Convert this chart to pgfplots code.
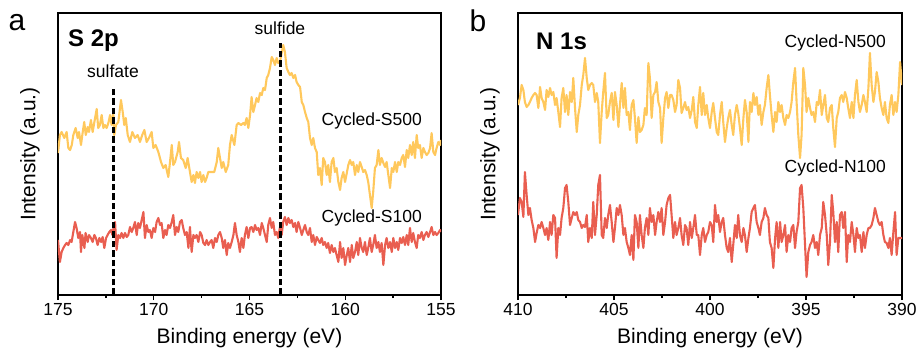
\documentclass[border=0pt]{standalone}
\usepackage{fontspec}
\setmainfont{Liberation Sans}
\usepackage{pgfplots}
\usepackage{pgfplotstable}
\pgfplotsset{compat=1.18}
\definecolor{ylw}{RGB}{255,200,92}
\definecolor{rd}{RGB}{233,94,80}

\pgfplotstableread{
x y
175.0 142
174.9 160
174.81 163
174.67 157
174.55 163
174.46 147
174.37 145
174.28 150
174.2 160
174.08 167
173.97 157
173.9 163
173.8 150
173.73 160
173.63 173
173.55 160
173.45 168
173.38 163
173.28 175
173.19 163
173.1 173
172.98 186
172.9 167
172.81 170
172.72 180
172.63 167
172.55 170
172.46 167
172.37 172
172.28 180
172.2 170
172.11 182
172.06 160
171.97 170
171.85 173
171.71 195
171.62 183
171.54 170
171.46 177
171.36 160
171.24 153
171.12 163
170.98 157
170.84 160
170.72 153
170.6 160
170.49 165
170.37 153
170.25 157
170.11 163
170.02 147
169.9 150
169.76 143
169.62 133
169.5 127
169.38 130
169.24 118
169.15 133
169.06 150
168.98 130
168.89 133
168.75 143
168.68 153
168.58 137
168.46 135
168.33 127
168.23 137
168.11 123
168.02 113
167.93 120
167.85 112
167.76 123
167.67 117
167.58 123
167.5 113
167.41 120
167.32 113
167.24 117
167.15 123
166.97 123
166.84 123
166.71 133
166.63 147
166.54 137
166.45 127
166.37 133
166.24 123
166.11 130
166.02 150
165.93 160
165.79 150
165.67 170
165.58 172
165.44 170
165.32 172
165.24 170
165.15 177
165.06 167
164.97 180
164.89 198
164.8 183
164.71 190
164.63 197
164.54 193
164.45 202
164.36 200
164.28 207
164.19 205
164.1 217
164.02 220
163.93 227
163.84 238
163.76 235
163.67 230
163.58 237
163.5 232
163.41 233
163.32 242
163.24 250
163.15 243
163.06 227
162.97 223
162.89 220
162.8 222
162.71 217
162.62 220
162.54 213
162.45 210
162.36 208
162.27 193
162.19 190
162.1 183
162.01 177
161.93 173
161.84 157
161.75 150
161.67 157
161.58 147
161.49 143
161.41 120
161.32 127
161.23 110
161.15 137
161.06 133
160.97 120
160.89 130
160.8 113
160.71 133
160.62 137
160.54 123
160.45 127
160.36 113
160.27 105
160.19 117
160.1 123
160.01 113
159.92 122
159.84 130
159.75 135
159.66 130
159.58 133
159.49 120
159.4 130
159.32 123
159.23 133
159.14 128
159.06 123
158.97 125
158.88 120
158.8 113
158.71 100
158.62 87
158.54 103
158.45 127
158.36 130
158.27 145
158.19 130
158.1 137
158.01 132
157.92 128
157.84 133
157.75 120
157.66 107
157.57 127
157.49 123
157.4 133
157.31 123
157.23 133
157.14 130
157.05 137
156.97 140
156.88 128
156.79 145
156.71 137
156.62 150
156.53 140
156.45 153
156.36 137
156.27 160
156.19 147
156.1 150
156.01 137
155.92 147
155.84 143
155.75 140
155.66 142
155.57 147
155.49 162
155.4 143
155.31 140
155.23 147
155.14 153
155.05 150
155.0 155
}\tSfive

\pgfplotstableread{
x y
175.0 55
174.9 33
174.81 43
174.72 47
174.63 50
174.55 52
174.46 50
174.37 55
174.29 53
174.2 63
174.11 73
174.03 67
173.94 57
173.85 63
173.8 43
173.73 60
173.62 47
173.56 62
173.45 53
173.38 60
173.28 57
173.19 53
173.1 60
173.02 57
172.93 50
172.84 57
172.75 53
172.67 58
172.58 47
172.49 57
172.41 60
172.32 63
172.23 65
172.16 60
172.09 68
172.02 73
171.94 45
171.85 60
171.76 57
171.68 62
171.59 57
171.5 62
171.41 58
171.33 60
171.24 68
171.15 63
171.07 67
170.98 73
170.89 60
170.81 72
170.72 67
170.63 75
170.54 83
170.46 57
170.37 70
170.28 63
170.2 65
170.11 57
170.02 67
169.93 63
169.85 73
169.76 77
169.67 70
169.59 72
169.5 57
169.41 65
169.33 60
169.24 70
169.15 67
169.06 73
168.98 80
168.89 60
168.8 68
168.72 63
168.63 73
168.54 75
168.46 67
168.37 60
168.28 63
168.19 47
168.11 68
168.02 43
167.93 60
167.85 57
167.76 60
167.67 53
167.58 63
167.5 60
167.41 52
167.32 50
167.24 55
167.15 50
167.06 53
166.98 55
166.89 47
166.8 57
166.71 53
166.63 60
166.54 63
166.45 57
166.37 47
166.28 55
166.19 40
166.11 52
166.02 47
165.93 53
165.84 60
165.76 72
165.67 60
165.58 53
165.5 43
165.41 57
165.32 47
165.24 60
165.15 68
165.06 57
164.97 67
164.89 68
164.8 63
164.71 70
164.63 65
164.54 67
164.45 60
164.36 72
164.28 67
164.19 60
164.1 53
164.02 70
163.93 77
163.84 67
163.76 73
163.67 60
163.58 63
163.5 57
163.41 68
163.32 60
163.24 73
163.15 78
163.06 70
162.97 77
162.89 72
162.8 75
162.71 68
162.62 72
162.54 63
162.45 73
162.36 67
162.27 60
162.19 65
162.1 70
162.01 63
161.93 60
161.84 67
161.75 53
161.67 60
161.58 50
161.49 58
161.41 55
161.32 52
161.23 57
161.15 50
161.06 53
160.97 47
160.89 52
160.8 42
160.71 50
160.62 43
160.54 47
160.45 40
160.36 33
160.27 53
160.19 37
160.1 47
160.01 30
159.92 40
159.84 47
159.75 33
159.66 50
159.58 37
159.49 43
159.4 53
159.32 40
159.23 57
159.14 47
159.06 43
158.97 53
158.88 40
158.8 47
158.71 57
158.62 43
158.54 50
158.45 60
158.36 47
158.27 53
158.19 43
158.1 52
158.01 30
157.92 50
157.84 57
157.75 47
157.66 53
157.57 43
157.49 57
157.4 47
157.31 53
157.23 45
157.14 57
157.05 52
156.97 58
156.88 50
156.79 60
156.71 50
156.62 67
156.53 53
156.45 62
156.36 53
156.27 47
156.19 60
156.1 57
156.01 63
155.92 55
155.84 60
155.75 63
155.66 58
155.57 63
155.49 68
155.4 60
155.31 63
155.23 60
155.14 62
155.05 65
155.0 63
}\tSone

\pgfplotstableread{
x y
410.0 190
409.9 197
409.81 210
409.72 205
409.64 193
409.55 188
409.46 190
409.38 193
409.29 197
409.2 200
409.11 202
409.03 200
408.94 187
408.85 208
408.77 197
408.68 193
408.59 185
408.51 205
408.42 198
408.33 207
408.25 200
408.16 203
408.07 190
407.99 197
407.9 183
407.81 168
407.73 197
407.64 207
407.55 183
407.47 200
407.38 180
407.29 203
407.2 193
407.12 217
407.03 187
406.94 163
406.86 180
406.77 190
406.68 210
406.6 220
406.51 237
406.42 217
406.34 205
406.25 210
406.16 212
406.08 210
405.99 193
405.9 202
405.82 193
405.73 152
405.64 183
405.56 203
405.47 222
405.38 177
405.3 180
405.21 193
405.12 202
405.03 175
404.95 203
404.86 190
404.77 168
404.69 190
404.6 212
404.51 187
404.43 207
404.34 180
404.25 183
404.17 165
404.08 190
403.99 195
403.91 177
403.82 152
403.73 178
403.65 163
403.56 165
403.47 170
403.39 187
403.3 180
403.21 232
403.13 217
403.04 177
402.95 200
402.86 203
402.78 213
402.69 193
402.6 187
402.52 152
402.43 177
402.34 197
402.26 203
402.17 187
402.08 200
402.0 200
401.91 195
401.82 183
401.74 190
401.65 215
401.56 207
401.48 182
401.39 187
401.3 193
401.22 185
401.13 188
401.04 177
400.95 185
400.87 198
400.78 173
400.69 167
400.61 190
400.52 208
400.43 180
400.35 202
400.26 180
400.17 190
400.09 177
400.0 167
399.91 183
399.83 192
399.74 177
399.65 163
399.57 160
399.48 180
399.39 193
399.31 173
399.22 153
399.13 167
399.05 177
398.96 185
398.87 170
398.79 160
398.7 180
398.61 190
398.53 182
398.44 167
398.35 150
398.26 177
398.18 195
398.09 183
398.0 153
397.92 193
397.83 183
397.74 202
397.66 190
397.57 198
397.48 180
397.4 190
397.31 170
397.22 183
397.14 190
397.05 207
396.96 220
396.88 200
396.79 180
396.7 163
396.61 183
396.53 173
396.44 193
396.35 183
396.27 190
396.18 177
396.09 170
396.01 180
395.92 177
395.83 183
395.75 193
395.66 213
395.57 227
395.49 193
395.4 160
395.31 137
395.23 160
395.14 227
395.05 210
394.97 183
394.88 197
394.79 187
394.71 180
394.62 183
394.53 173
394.44 193
394.36 190
394.27 205
394.18 180
394.1 190
394.01 200
393.92 177
393.84 173
393.75 187
393.66 190
393.58 167
393.49 148
393.4 177
393.32 183
393.23 197
393.14 200
393.06 193
392.97 203
392.88 197
392.8 187
392.71 177
392.62 193
392.53 177
392.45 200
392.36 215
392.27 193
392.19 183
392.1 190
392.01 200
391.93 193
391.84 183
391.75 207
391.67 242
391.58 210
391.49 193
391.41 203
391.32 223
391.23 213
391.15 197
391.06 187
390.97 180
390.89 193
390.8 177
390.71 172
390.63 190
390.54 200
390.45 180
390.36 193
390.28 183
390.19 200
390.1 233
390.0 210
}\tNfive

\pgfplotstableread{
x y
410.0 80
409.9 97
409.81 93
409.72 78
409.64 123
409.55 100
409.46 80
409.38 87
409.29 75
409.2 67
409.11 53
409.03 62
408.94 70
408.85 67
408.77 73
408.68 67
408.59 60
408.51 67
408.42 55
408.33 73
408.25 60
408.16 80
408.07 77
407.99 37
407.9 67
407.81 60
407.73 77
407.64 87
407.55 107
407.47 110
407.38 93
407.29 70
407.2 77
407.12 83
407.03 80
406.94 83
406.86 75
406.77 73
406.68 67
406.6 70
406.51 68
406.42 80
406.34 53
406.25 67
406.16 57
406.08 93
405.99 60
405.9 80
405.82 110
405.73 120
405.64 60
405.56 57
405.47 77
405.38 67
405.3 80
405.21 90
405.12 73
405.03 53
404.95 67
404.86 87
404.77 80
404.69 90
404.6 80
404.51 60
404.43 67
404.34 53
404.25 47
404.17 40
404.08 60
403.99 35
403.91 80
403.82 73
403.73 47
403.65 80
403.56 60
403.47 47
403.39 67
403.3 77
403.21 60
403.13 87
403.04 73
402.95 80
402.86 60
402.78 73
402.69 83
402.6 73
402.52 87
402.43 60
402.34 73
402.26 90
402.17 97
402.08 100
402.0 80
401.91 57
401.82 73
401.74 60
401.65 67
401.56 77
401.48 60
401.39 50
401.3 70
401.22 67
401.13 50
401.04 73
400.95 57
400.87 67
400.78 80
400.69 60
400.61 60
400.52 40
400.43 60
400.35 67
400.26 53
400.17 60
400.09 63
400.0 73
399.91 70
399.83 53
399.74 90
399.65 73
399.57 80
399.48 63
399.39 73
399.31 77
399.22 60
399.13 47
399.05 43
398.96 57
398.87 33
398.79 50
398.7 70
398.61 57
398.53 80
398.44 60
398.35 53
398.26 67
398.18 60
398.09 43
398.0 57
397.92 67
397.83 83
397.74 87
397.66 90
397.57 73
397.48 67
397.4 60
397.31 73
397.22 77
397.14 87
397.05 80
396.96 77
396.88 53
396.79 47
396.7 27
396.61 57
396.53 73
396.44 47
396.35 73
396.27 53
396.18 60
396.09 70
396.01 43
395.92 60
395.83 53
395.75 67
395.66 70
395.57 47
395.49 63
395.4 73
395.31 107
395.23 110
395.14 87
395.05 50
394.97 18
394.88 43
394.79 50
394.71 53
394.62 60
394.53 47
394.44 53
394.36 40
394.27 60
394.18 67
394.1 93
394.01 80
393.92 60
393.84 30
393.75 53
393.66 100
393.58 83
393.49 53
393.4 73
393.32 43
393.23 80
393.14 83
393.06 67
392.97 83
392.88 33
392.8 60
392.71 53
392.62 73
392.53 60
392.45 43
392.36 67
392.27 57
392.19 60
392.1 43
392.01 63
391.93 47
391.84 60
391.75 67
391.67 67
391.58 70
391.49 77
391.41 87
391.32 80
391.23 73
391.15 70
391.06 73
390.97 60
390.89 53
390.8 52
390.71 47
390.63 57
390.54 40
390.45 63
390.36 83
390.28 40
390.19 57
390.1 57
390.0 57
}\tNone

\pgfplotsset{xpsaxis/.style={
  scale only axis, anchor=south west, height=282bp,
  x dir=reverse, ymin=0, ymax=282, ytick=\empty,
  xtick pos=bottom, tick align=outside,
  major tick length=5bp, minor tick length=3bp,
  axis line style={black, line width=1.5bp},
  every tick/.style={black, line width=1.3bp},
  /pgf/number format/assume math mode=true,
  ticklabel style={font=\fontsize{17.5bp}{20bp}\selectfont},
  xlabel={Binding energy (eV)}, ylabel={Intensity (a.u.)},
  label style={font=\fontsize{21bp}{24bp}\selectfont},
  xlabel style={at={(axis description cs:0.5,-0.1525)}, anchor=center},
  ylabel style={at={(axis description cs:-0.073,0.5)}, anchor=center},
  every axis plot/.append style={line width=2.1bp, line join=round},
}}

\begin{document}
\begin{tikzpicture}
\path[use as bounding box] (0,0) rectangle (917bp,351bp);
\node[font=\fontsize{30bp}{34bp}\selectfont] at (17bp,328bp) {a};
\node[font=\fontsize{30bp}{34bp}\selectfont] at (478bp,330bp) {b};

\begin{axis}[xpsaxis, at={(58bp,56bp)}, width=383bp,
  xmin=155, xmax=175, xtick={155,160,165,170,175},
  minor xtick={157.5,162.5,167.5,172.5}]
  \addplot[ylw] table[x=x,y=y] {\tSfive};
  \addplot[rd] table[x=x,y=y] {\tSone};
  \addplot[black, line width=2.8bp, dash pattern=on 6.5bp off 3bp] coordinates {(172.1,0) (172.1,206)};
  \addplot[black, line width=2.8bp, dash pattern=on 6.5bp off 3bp] coordinates {(163.4,0) (163.4,252)};
  \node[anchor=west, inner sep=0, font=\fontsize{24bp}{28bp}\selectfont\bfseries] at (axis cs:174.48,254) {S 2p};
  \node[inner sep=0, font=\fontsize{17.5bp}{20bp}\selectfont] at (axis cs:172.13,224) {sulfate};
  \node[inner sep=0, font=\fontsize{17.5bp}{20bp}\selectfont] at (axis cs:163.41,267) {sulfide};
  \node[anchor=east, inner sep=0, font=\fontsize{17.5bp}{20bp}\selectfont] at (axis cs:155.99,174) {Cycled-S500};
  \node[anchor=east, inner sep=0, font=\fontsize{17.5bp}{20bp}\selectfont] at (axis cs:155.99,77) {Cycled-S100};
\end{axis}

\begin{axis}[xpsaxis, at={(518bp,56bp)}, width=384bp,
  xmin=390, xmax=410, xtick={390,395,400,405,410},
  minor xtick={392.5,397.5,402.5,407.5}]
  \addplot[ylw] table[x=x,y=y] {\tNfive};
  \addplot[rd] table[x=x,y=y] {\tNone};
  \node[anchor=west, inner sep=0, font=\fontsize{24bp}{28bp}\selectfont\bfseries] at (axis cs:409.06,254) {N 1s};
  \node[anchor=east, inner sep=0, font=\fontsize{17.5bp}{20bp}\selectfont] at (axis cs:390.83,252) {Cycled-N500};
  \node[anchor=east, inner sep=0, font=\fontsize{17.5bp}{20bp}\selectfont] at (axis cs:390.83,127) {Cycled-N100};
\end{axis}
\end{tikzpicture}
\end{document}
